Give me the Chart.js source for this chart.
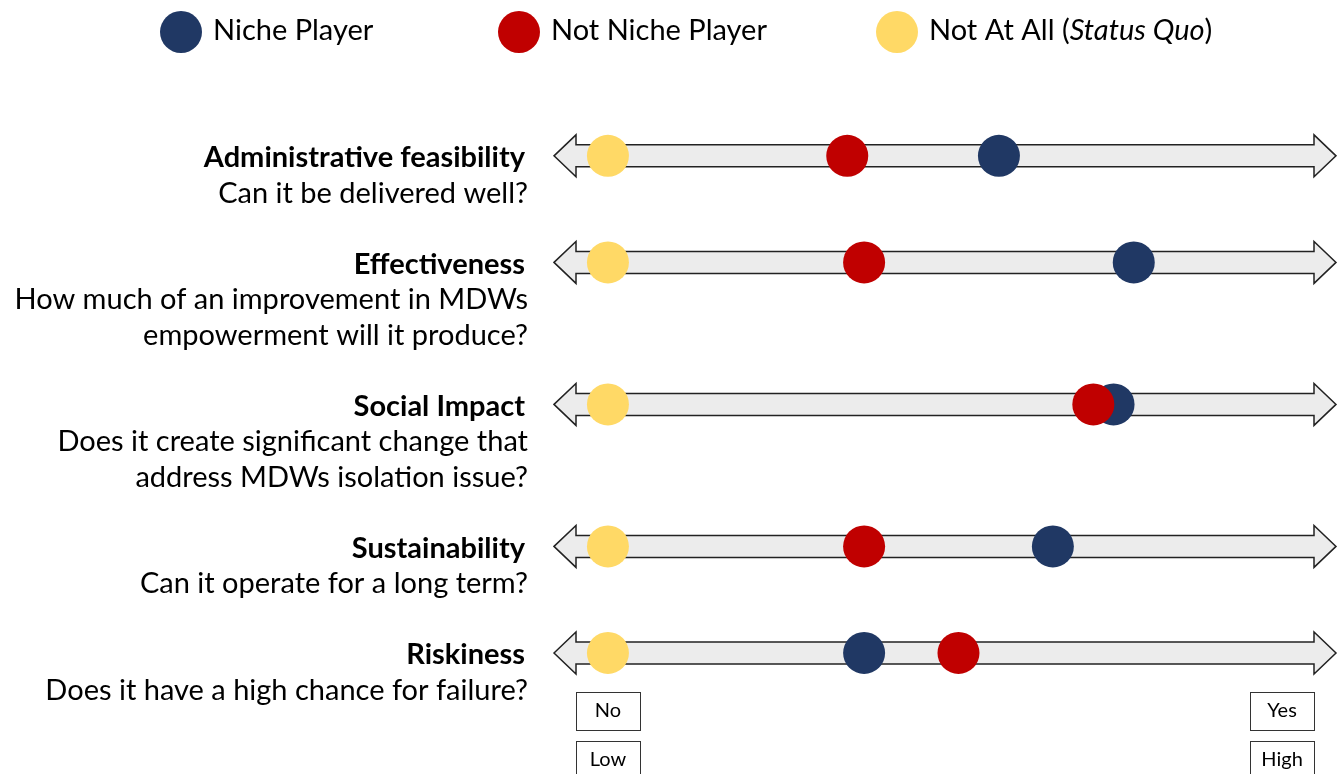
<!DOCTYPE html>
<html>
<head>
<meta charset="utf-8">
<script src="https://cdn.jsdelivr.net/npm/chart.js@4/dist/chart.umd.min.js"></script>
<style>
  body{ margin:0; background:#fff; overflow:hidden; }
  #wrap{ width:1341px; height:774px; position:relative; }
</style>
</head>
<body>
<div id="wrap"><canvas id="chart"></canvas></div>
<script>
/* DATA */

const criteria = ["Administrative feasibility","Effectiveness","Social Impact","Sustainability","Riskiness"];
const questions = [
  ["Can it be delivered well?"],
  ["How much of an improvement in MDWs","empowerment will it produce?"],
  ["Does it create significant change that","address MDWs isolation issue?"],
  ["Can it operate for a long term?"],
  ["Does it have a high chance for failure?"]
];

const nichePlayer    = [5.8, 7.8, 7.5, 6.6, 3.8];
const notNichePlayer = [3.55, 3.8, 7.2, 3.8, 5.2];
const notAtAll       = [0, 0, 0, 0, 0];

const lowTicks  = ["No","Low"];
const highTicks = ["Yes","High"];

const NAVY = "#203864";
const RED = "#C00000";
const YELLOW = "#FFD966";
const FONT = "Lato, 'Open Sans', sans-serif";

/* row positions follow the number of text lines in each label */

const rowPos = [];
let acc = 0;
questions.forEach(q=>{
  rowPos.push(acc);
  acc += q.length + 2;
});

const toPoints = vals => vals.map((v,i)=>({x:v, y:rowPos[i]}));

/* ARROWS + LABELS */

const scalePlugin = {
  id:"scalePlugin",
  beforeDatasetsDraw(chart){
    const {ctx, scales:{x,y}} = chart;
    const xl = x.getPixelForValue(x.min);
    const xr = x.getPixelForValue(x.max);
    rowPos.forEach(r=>{
      const cy = y.getPixelForValue(r);
      ctx.save();
      ctx.beginPath();
      ctx.moveTo(xl, cy);
      ctx.lineTo(xl+22, cy-21);
      ctx.lineTo(xl+22, cy-11);
      ctx.lineTo(xr-22, cy-11);
      ctx.lineTo(xr-22, cy-21);
      ctx.lineTo(xr, cy);
      ctx.lineTo(xr-22, cy+21);
      ctx.lineTo(xr-22, cy+11);
      ctx.lineTo(xl+22, cy+11);
      ctx.lineTo(xl+22, cy+21);
      ctx.closePath();
      ctx.fillStyle = "#ECECEC";
      ctx.fill();
      ctx.lineWidth = 1.5;
      ctx.strokeStyle = "#222";
      ctx.stroke();
      ctx.restore();
    });
  },
  afterDraw(chart){
    const {ctx, scales:{x,y}} = chart;
    ctx.save();
    ctx.fillStyle = "#000";
    ctx.textAlign = "right";
    ctx.textBaseline = "middle";
    criteria.forEach((c,i)=>{
      const cy = y.getPixelForValue(rowPos[i]);
      ctx.font = "bold 29px " + FONT;
      ctx.fillText(c, 525, cy+2);
      ctx.font = "29px " + FONT;
      questions[i].forEach((line,k)=>{
        ctx.fillText(line, 528, cy + 2 + 35.5*(k+1));
      });
    });

    // end boxes
    ctx.textAlign = "center";
    ctx.font = "20px " + FONT;
    ctx.strokeStyle = "#333";
    ctx.lineWidth = 1;
    [[x.getPixelForValue(0), lowTicks],[x.getPixelForValue(10), highTicks]].forEach(([cx,labels])=>{
      labels.forEach((t,k)=>{
        const top = 692 + k*49;
        ctx.strokeRect(Math.round(cx-32)+0.5, top+0.5, 64, 38);
        ctx.fillText(t, cx, top+19);
      });
    });

    // legend
    const items = [
      {x:181, color:NAVY, parts:[["Niche Player",""]]},
      {x:519, color:RED, parts:[["Not Niche Player",""]]},
      {x:897, color:YELLOW, parts:[["Not At All (",""],["Status Quo","italic "],[")",""]]}
    ];
    ctx.textAlign = "left";
    items.forEach(it=>{
      ctx.beginPath();
      ctx.arc(it.x, 32, 21, 0, Math.PI*2);
      ctx.fillStyle = it.color;
      ctx.fill();
      ctx.fillStyle = "#000";
      let tx = it.x + 32;
      it.parts.forEach(([t,style])=>{
        ctx.font = style + "29px " + FONT;
        ctx.fillText(t, tx, 31);
        tx += ctx.measureText(t).width;
      });
    });
    ctx.restore();
  }
};

/* CHART */

new Chart(document.getElementById("chart"),{
  type:"scatter",
  data:{
    datasets:[
      {label:"Not At All (Status Quo)", data:toPoints(notAtAll), backgroundColor:YELLOW},
      {label:"Not Niche Player", data:toPoints(notNichePlayer), backgroundColor:RED},
      {label:"Niche Player", data:toPoints(nichePlayer), backgroundColor:NAVY}
    ]
  },
  options:{
    responsive:true,
    maintainAspectRatio:false,
    animation:false,
    layout:{ autoPadding:false, padding:{left:554, right:5, top:0, bottom:0} },
    elements:{ point:{ radius:21, hoverRadius:21, borderWidth:0 } },
    plugins:{ legend:{display:false}, tooltip:{enabled:false} },
    scales:{
      x:{ type:"linear", min:-0.8, max:10.8, display:false },
      y:{ type:"linear", reverse:true, min:-4.39, max:17.41, display:false }
    }
  },
  plugins:[scalePlugin]
});
</script>
</body>
</html>
